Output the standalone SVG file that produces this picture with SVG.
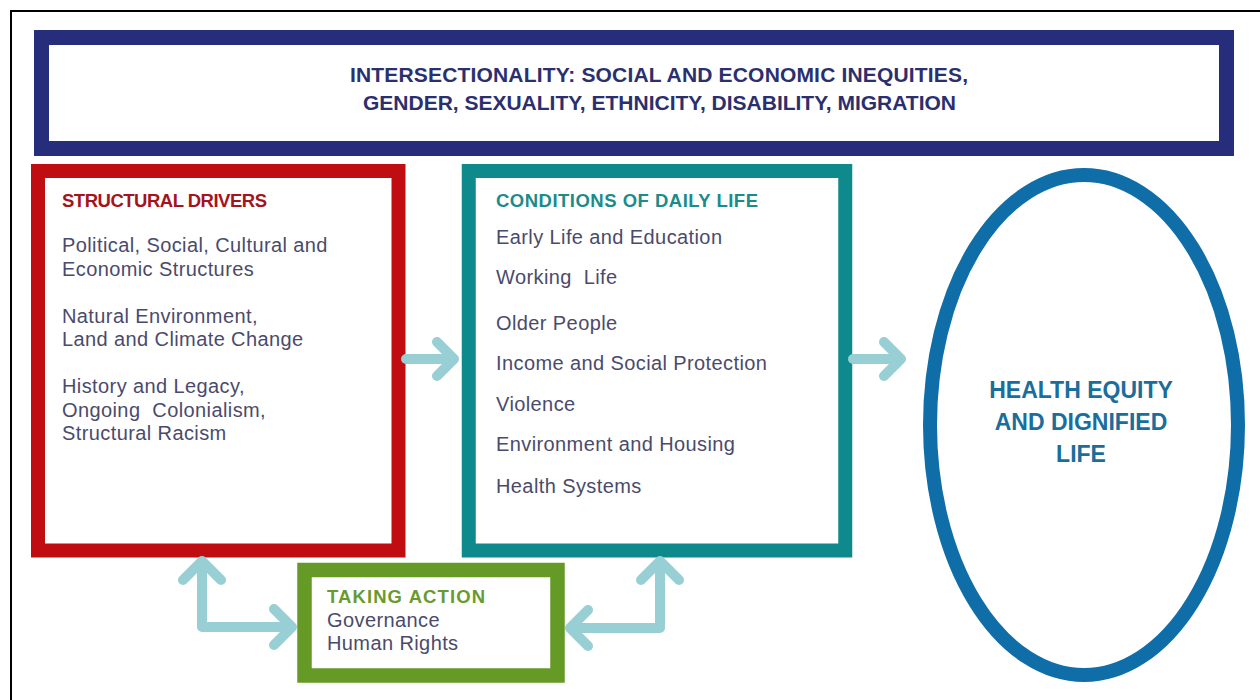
<svg xmlns="http://www.w3.org/2000/svg" width="1260" height="700" viewBox="0 0 1260 700">
  <style>
    .box { fill: #ffffff; }
    .hdr { font-family: "Liberation Sans", Arial, sans-serif; font-weight: bold; font-size: 18.5px; }
    .body { font-family: "Liberation Sans", Arial, sans-serif; font-size: 20px; fill: #4a4b6c; letter-spacing: 0.4px; }
    .top { font-family: "Liberation Sans", Arial, sans-serif; font-weight: bold; font-size: 21px; fill: #2b2f6e; }
    .goal { font-family: "Liberation Sans", Arial, sans-serif; font-weight: bold; font-size: 23px; fill: #1a6e9c; text-anchor: middle; }
    .arrow { fill: none; stroke: #97cfd4; stroke-width: 10; stroke-linecap: round; stroke-linejoin: round; }
  </style>
  <rect width="1260" height="700" fill="#ffffff"/>
  <rect x="11" y="11" width="1300" height="800" fill="none" stroke="#000000" stroke-width="2"/>

  <g id="intersectionality">
    <rect class="box" x="41.5" y="37.5" width="1185" height="111" stroke="#262d7a" stroke-width="15"/>
    <text class="top" x="350" y="82" textLength="618" lengthAdjust="spacing">INTERSECTIONALITY: SOCIAL AND ECONOMIC INEQUITIES,</text>
    <text class="top" x="363" y="110" textLength="593" lengthAdjust="spacing">GENDER, SEXUALITY, ETHNICITY, DISABILITY, MIGRATION</text>
  </g>

  <g id="structural-drivers">
    <rect class="box" x="38" y="171" width="360.5" height="379.5" stroke="#c00d12" stroke-width="14"/>
    <text class="hdr" x="62" y="207" fill="#a5141d" textLength="205" lengthAdjust="spacing">STRUCTURAL DRIVERS</text>
    <text class="body" x="62" y="252">Political, Social, Cultural and</text>
    <text class="body" x="62" y="276">Economic Structures</text>
    <text class="body" x="62" y="323">Natural Environment,</text>
    <text class="body" x="62" y="346">Land and Climate Change</text>
    <text class="body" x="62" y="393">History and Legacy,</text>
    <text class="body" x="62" y="417" xml:space="preserve">Ongoing  Colonialism,</text>
    <text class="body" x="62" y="440">Structural Racism</text>
  </g>

  <g id="conditions-of-daily-life">
    <rect class="box" x="468.75" y="171" width="376.5" height="379.5" stroke="#0f8a8c" stroke-width="14"/>
    <text class="hdr" x="496" y="207" fill="#1b8c8a" textLength="262" lengthAdjust="spacing">CONDITIONS OF DAILY LIFE</text>
    <text class="body" x="496" y="244">Early Life and Education</text>
    <text class="body" x="496" y="284" xml:space="preserve">Working  Life</text>
    <text class="body" x="496" y="330">Older People</text>
    <text class="body" x="496" y="370">Income and Social Protection</text>
    <text class="body" x="496" y="411">Violence</text>
    <text class="body" x="496" y="451">Environment and Housing</text>
    <text class="body" x="496" y="493">Health Systems</text>
  </g>

  <g id="taking-action">
    <rect class="box" x="304.5" y="570" width="253" height="105.5" stroke="#669a26" stroke-width="14.5"/>
    <text class="hdr" x="327" y="603" fill="#6a9a2e" textLength="158" lengthAdjust="spacing">TAKING ACTION</text>
    <text class="body" x="327" y="627">Governance</text>
    <text class="body" x="327" y="650">Human Rights</text>
  </g>

  <g id="health-equity">
    <ellipse class="box" cx="1084" cy="425" rx="154" ry="250" stroke="#0f6ea8" stroke-width="14"/>
    <text class="goal" x="1081" y="398">HEALTH EQUITY</text>
    <text class="goal" x="1081" y="430">AND DIGNIFIED</text>
    <text class="goal" x="1081" y="462">LIFE</text>
  </g>

  <g id="connectors">
    <path class="arrow" d="M406,359 H453 M437,342 L454,359 L437,376"/>
    <path class="arrow" d="M853,359 H900 M884,342 L901,359 L884,376"/>
    <path class="arrow" d="M202,562 V627 H291 M183,580 L202,561 L221,580 M274,609 L292,627 L274,645"/>
    <path class="arrow" d="M660,562 V628 H571 M641,580 L660,561 L679,580 M588,610 L570,628 L588,646"/>
  </g>
</svg>
